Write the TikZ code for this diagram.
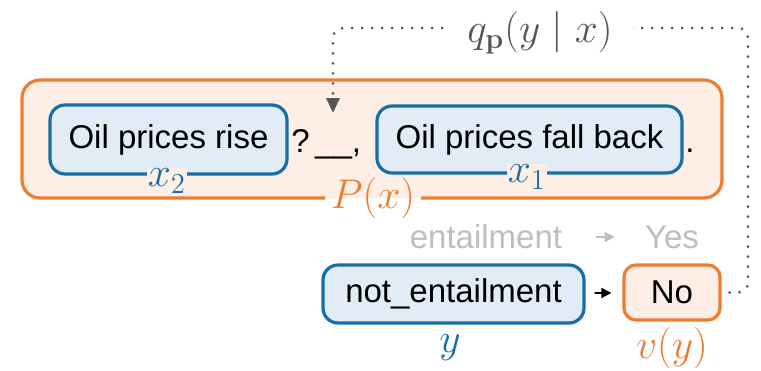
\documentclass[tikz,border=0pt]{standalone}
\usepackage[no-math]{fontspec}
\setmainfont{Liberation Sans}
\usetikzlibrary{arrows.meta}
\definecolor{obord}{RGB}{237,125,49}
\definecolor{ofill}{RGB}{253,239,230}
\definecolor{bbord}{RGB}{24,110,166}
\definecolor{bfill}{RGB}{225,236,246}
\definecolor{ltgrey}{RGB}{190,190,190}
\definecolor{dkgrey}{RGB}{85,85,85}
\begin{document}
\begin{tikzpicture}[x=0.5pt,y=-0.5pt,
  font=\fontsize{16.5}{20}\selectfont,
  bluebox/.style={draw=bbord, fill=bfill, line width=1.6pt, rounded corners=7.5pt, inner sep=0pt},
  orangebox/.style={draw=obord, fill=ofill, line width=1.6pt, rounded corners=6pt, inner sep=0pt},
  txt/.style={inner sep=0pt},
  mathlbl/.style={inner sep=0pt, font=\fontsize{20.5}{24}\selectfont},
  dotline/.style={dkgrey, line width=1.5pt, dash pattern=on 0pt off 5pt, line cap=round, rounded corners=5pt},
  smallarrow/.style={line width=0.9pt, -{Triangle[width=5pt,length=5pt]}}]
\useasboundingbox (0,0) rectangle (761,370);
% outer orange box P(x)
\fill[ofill, rounded corners=9pt] (22,80) rectangle (722,198);
\draw[obord, line width=1.6pt, rounded corners=9pt]
  (421,198) -- (722,198) -- (722,80) -- (22,80) -- (22,198) -- (325,198);
\node[mathlbl, text=obord] (Plbl) at (373,198) {$P(x)$};
% sentence
\node[bluebox, minimum width=118.5pt, minimum height=34.5pt] (x2box) at (168.5,139.5) {Oil prices rise};
\node[bluebox, minimum width=152.5pt, minimum height=33.5pt] (x1box) at (529.5,139.5) {Oil prices fall back};
\node[txt, anchor=base west] (blank) at (291,152) {?\,\_\_,};
\node[txt, anchor=base west] (stop) at (685,152) {.};
\node[mathlbl, text=bbord, fill=ofill, inner sep=0.5pt] (x2lbl) at (167,181) {$x_2$};
\node[mathlbl, text=bbord, fill=ofill, inner sep=0.5pt] (x1lbl) at (527,177) {$x_1$};
% verbalizer
\node[txt, text=ltgrey] (ent) at (486,237) {entailment};
\node[txt, text=ltgrey] (yes) at (672,237) {Yes};
\draw[smallarrow, ltgrey, shorten <=16.5pt, shorten >=15pt] (ent) -- (yes);
\node[bluebox, minimum width=130.5pt, minimum height=29pt] (y) at (453.5,294) {not\_entailment};
\node[orangebox, minimum width=48pt, minimum height=27.5pt] (no) at (672,292.5) {No};
\draw[smallarrow, black, shorten <=4.5pt, shorten >=5.5pt] (y) -- (no);
\node[mathlbl, text=bbord] (ylbl) at (450,348) {$y$};
\node[mathlbl, text=obord] (vlbl) at (672,348) {$v(y)$};
% feedback loop
\coordinate (c1) at (748,292.5);
\coordinate (c2) at (748,28);
\coordinate (c3) at (333,28);
\coordinate (tip) at (333,113);
\draw[dotline, -{Triangle[width=6.5pt,length=7.5pt]}, shorten <=4pt] (no.east) -- (c1) -- (c2) -- (c3) -- (tip);
\node[mathlbl, text=dkgrey, fill=white, inner xsep=10pt, inner ysep=2pt] (qlbl) at (540,33) {$q_{\mathbf{p}}(y \mid x)$};
\end{tikzpicture}
\end{document}
